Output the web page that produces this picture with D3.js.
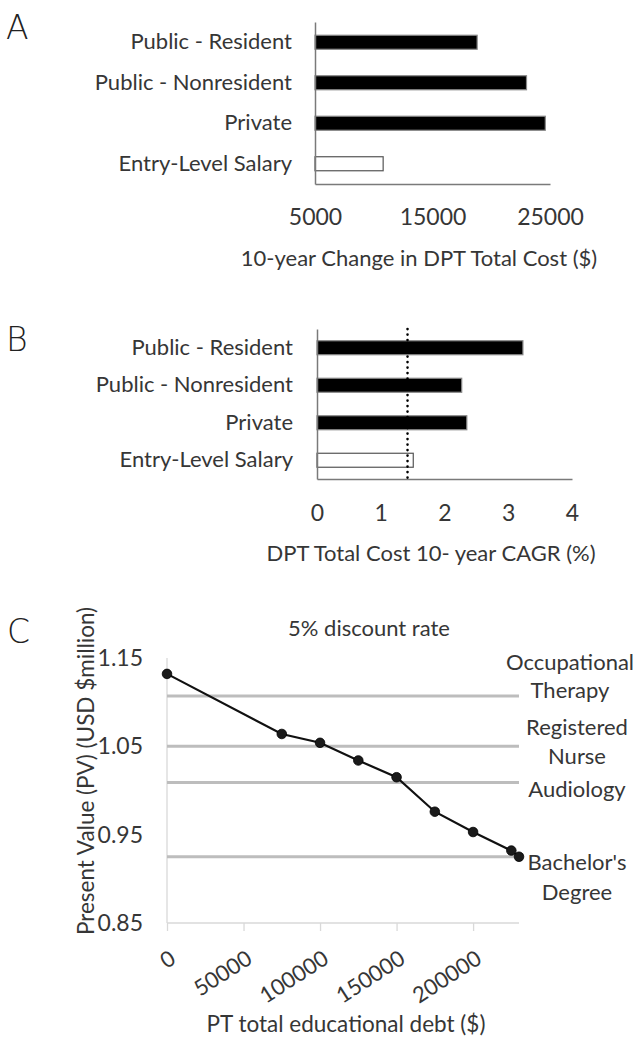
<!DOCTYPE html>
<html><head><meta charset="utf-8">
<script src="https://cdn.jsdelivr.net/npm/d3@7"></script>
<style>
body{margin:0;background:#fff}
text{font-family:Lato,"Open Sans",sans-serif;fill:#363636}
</style>
</head><body>
<svg id="chart" width="637" height="1040"></svg>
<script>
// ---- data ----
const categories = ["Public - Resident", "Public - Nonresident", "Private", "Entry-Level Salary"];
const costChange = [18800, 23000, 24600, 10800];
const costTicks = [5000, 15000, 25000];
const cagr = [3.23, 2.27, 2.35, 1.51];
const cagrTicks = [0, 1, 2, 3, 4];
const salaryCagr = 1.42;
const debt = [0, 75000, 100000, 125000, 150000, 175000, 200000, 225000, 230000];
const presentValue = [1.132, 1.064, 1.054, 1.034, 1.015, 0.976, 0.953, 0.932, 0.925];
const debtTicks = [0, 50000, 100000, 150000, 200000];
const pvTicks = [0.85, 0.95, 1.05, 1.15];
const refLabels = [["Occupational", "Therapy"], ["Registered", "Nurse"], ["Audiology"], ["Bachelor's", "Degree"]];
const refValues = [1.107, 1.05, 1.009, 0.925];

const svg = d3.select("#chart");
const FS = 22;     // category labels / titles
const TFS = 23;    // tick labels
const TXT = "#363636";

function panelLetter(t, x, y) {
  svg.append("text").attr("x", x).attr("y", y).text(t)
    .style("font-family", "'DejaVu Sans',sans-serif").style("font-weight", "200")
    .style("font-size", "33px").style("fill", "#222");
}

function barPanel(o) {
  const g = svg.append("g");
  const x = d3.scaleLinear().domain(o.domain).range(o.xr);
  const y = d3.scaleBand().domain(categories).range(o.yr).paddingInner(o.pad).paddingOuter(o.pad / 2);
  g.selectAll("rect.bar").data(categories).join("rect")
    .attr("x", x(o.domain[0]))
    .attr("y", d => y(d))
    .attr("width", (d, i) => x(o.values[i]) - x(o.domain[0]))
    .attr("height", y.bandwidth())
    .attr("fill", (d, i) => i === 3 ? "#fff" : "#000")
    .attr("stroke", (d, i) => i === 3 ? "#555" : "#888")
    .attr("stroke-width", 1.2);
  const xAxis = d3.axisBottom(x).tickValues(o.ticks).tickSize(0).tickPadding(0).tickFormat(d3.format("d"));
  const ax = g.append("g").attr("transform", `translate(0,${o.yr[1]})`).call(xAxis);
  ax.select(".domain").attr("stroke", "#7a7a7a").attr("stroke-width", 1.5);
  ax.selectAll(".tick text").attr("y", o.tickY - o.yr[1]).attr("dy", "0.35em")
    .style("font-size", TFS + "px").style("font-family", "Lato,sans-serif").attr("fill", TXT);
  const yAxis = d3.axisLeft(y).tickSize(0).tickPadding(x(o.domain[0]) - o.labelX);
  const ay = g.append("g").attr("transform", `translate(${x(o.domain[0])},0)`).call(yAxis);
  ay.select(".domain").attr("stroke", "#7a7a7a").attr("stroke-width", 1.5);
  ay.selectAll(".tick text").style("font-size", FS + "px").style("font-family", "Lato,sans-serif").attr("fill", TXT);
  g.append("text").attr("x", o.titleX).attr("y", o.titleY).attr("dy", "0.35em")
    .attr("text-anchor", "middle").style("font-size", FS + "px").text(o.title);
  return { g, x, y };
}

// Panel A
panelLetter("A", 6, 39);
barPanel({
  domain: [5000, 25000], xr: [315, 550], yr: [22, 184], pad: 0.654,
  values: costChange, ticks: costTicks, tickY: 217, labelX: 292,
  title: "10-year Change in DPT Total Cost ($)", titleX: 419, titleY: 258
});

// Panel B
panelLetter("B", 6, 351);
const pb = barPanel({
  domain: [0, 4], xr: [317, 572], yr: [329, 479], pad: 0.627,
  values: cagr, ticks: cagrTicks, tickY: 513, labelX: 293,
  title: "DPT Total Cost 10- year CAGR (%)", titleX: 431, titleY: 553
});
pb.g.append("line")
  .attr("x1", pb.x(salaryCagr)).attr("x2", pb.x(salaryCagr))
  .attr("y1", 329).attr("y2", 479)
  .attr("stroke", "#000").attr("stroke-width", 2.6)
  .attr("stroke-linecap", "round").attr("stroke-dasharray", "0.1,5.4");

// Panel C
panelLetter("C", 7, 643);
const gc = svg.append("g");
const xc = d3.scaleLinear().domain([0, 230000]).range([167, 519]);
const yc = d3.scaleLinear().domain([0.85, 1.15]).range([923, 658]);

gc.append("line").attr("x1", 167).attr("x2", 167).attr("y1", yc(1.15)).attr("y2", yc(0.85))
  .attr("stroke", "#d9d9d9").attr("stroke-width", 1.3);
const xAxC = d3.axisBottom(xc).tickValues(debtTicks).tickSize(8).tickPadding(0).tickFormat(d3.format("d"));
const axc = gc.append("g").attr("transform", `translate(0,${yc(0.85)})`).call(xAxC);
axc.select(".domain").attr("stroke", "#d9d9d9").attr("stroke-width", 1.5).attr("d", `M${xc(0)},0H${xc(230000)}`);
axc.selectAll(".tick line").attr("stroke", "#d9d9d9").attr("stroke-width", 1.3);
axc.selectAll(".tick text")
  .attr("text-anchor", "end").attr("y", null).attr("dy", "0.72em")
  .attr("transform", "translate(1,26) rotate(-33)")
  .style("font-size", "22px").style("font-family", "Lato,sans-serif").attr("fill", TXT);
const yAxC = d3.axisLeft(yc).tickValues(pvTicks).tickSize(0).tickPadding(24).tickFormat(d3.format(".2f"));
const ayc = gc.append("g").attr("transform", `translate(167,0)`).call(yAxC);
ayc.select(".domain").remove();
ayc.selectAll(".tick text").style("font-size", "23px").style("font-family", "Lato,sans-serif").attr("fill", TXT);

gc.selectAll("line.ref").data(refValues).join("line").attr("class", "ref")
  .attr("x1", xc(0)).attr("x2", xc(230000))
  .attr("y1", d => yc(d)).attr("y2", d => yc(d))
  .attr("stroke", "#bdbdbd").attr("stroke-width", 3);
const labelOffsets = [[-34, -6], [-19, 10], [7], [6, 36]];
const labelX = [570, 577, 577, 577];
refLabels.forEach((lines, i) => {
  lines.forEach((t, j) => {
    gc.append("text").attr("x", labelX[i]).attr("y", yc(refValues[i]) + labelOffsets[i][j])
      .attr("dy", "0.35em").attr("text-anchor", "middle").style("font-size", "22px").text(t);
  });
});

const pts = debt.map((d, i) => [d, presentValue[i]]);
gc.append("path").datum(pts)
  .attr("d", d3.line().x(d => xc(d[0])).y(d => yc(d[1])))
  .attr("fill", "none").attr("stroke", "#111").attr("stroke-width", 2.2);
gc.selectAll("circle.pt").data(pts).join("circle").attr("class", "pt")
  .attr("cx", d => xc(d[0])).attr("cy", d => yc(d[1])).attr("r", 4.8)
  .attr("fill", "#1a1a1a").attr("stroke", "#000").attr("stroke-width", 0.8);

gc.append("text").attr("x", 369).attr("y", 628).attr("dy", "0.35em").attr("text-anchor", "middle")
  .style("font-size", "22px").text("5% discount rate");
gc.append("text").attr("transform", "translate(86,771) rotate(-90)").attr("dy", "0.35em")
  .attr("text-anchor", "middle").style("font-size", "22.5px").text("Present Value (PV) (USD $million)");
gc.append("text").attr("x", 346).attr("y", 1024).attr("dy", "0.35em").attr("text-anchor", "middle")
  .style("font-size", "22.5px").text("PT total educational debt ($)");
</script>
</body></html>
